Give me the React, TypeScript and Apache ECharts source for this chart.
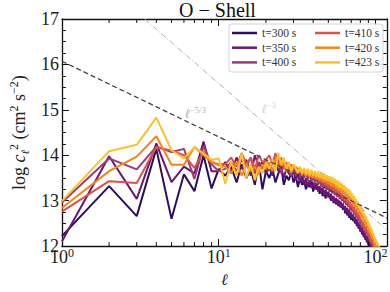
import React, { useEffect, useRef } from 'react';
import * as echarts from 'echarts';

// multipole degree l = 1 .. 110
const ELL: number[] = Array.from({ length: 110 }, (_, i) => i + 1);

const LABELS = ['t=300 s', 't=350 s', 't=400 s', 't=410 s', 't=420 s', 't=423 s'];
const COLORS = ['#2d0f5e', '#6b1773', '#a03a76', '#d9534a', '#f7841b', '#fcc12d'];

const S300 = [
  12.22, 13.32, 12.66, 14.14, 12.60, 13.58, 13.21, 14.00, 13.27, 13.70,
  13.55, 13.75, 13.40, 13.80, 13.50, 13.70, 13.35, 13.85, 13.25, 13.65,
  13.50, 13.70, 13.40, 13.60, 13.75, 13.35, 13.55, 13.45, 13.65, 13.40,
  13.55, 13.30, 13.50, 13.35, 13.45, 13.25, 13.40, 13.30, 13.45, 13.20,
  13.35, 13.25, 13.30, 13.15, 13.28, 13.10, 13.22, 13.05, 13.18, 13.08,
  13.15, 13.00, 13.10, 12.95, 13.05, 12.92, 13.02, 12.88, 12.98, 12.85,
  12.92, 12.80, 12.88, 12.72, 12.82, 12.68, 12.76, 12.62, 12.72, 12.58,
  12.68, 12.55, 12.64, 12.50, 12.58, 12.44, 12.52, 12.38, 12.46, 12.32,
  12.40, 12.26, 12.34, 12.20, 12.28, 12.14, 12.22, 12.08, 12.15, 12.02,
  12.10, 11.98, 12.04, 11.92, 11.98, 11.86, 11.90, 11.78, 11.83, 11.72,
  11.76, 11.64, 11.68, 11.56, 11.60, 11.50, 11.52, 11.44, 11.46, 11.38,
];
const S350 = [
  12.10, 13.98, 13.04, 14.26, 13.41, 13.75, 13.60, 14.30, 13.65, 13.65,
  13.85, 13.60, 13.95, 13.70, 13.90, 13.55, 14.00, 13.75, 13.85, 13.60,
  13.80, 13.55, 13.90, 13.65, 13.75, 13.50, 13.70, 13.60, 13.55, 13.65,
  13.45, 13.60, 13.40, 13.55, 13.35, 13.50, 13.30, 13.45, 13.28, 13.40,
  13.25, 13.38, 13.20, 13.32, 13.18, 13.28, 13.12, 13.24, 13.08, 13.20,
  13.05, 13.15, 13.00, 13.10, 12.96, 13.06, 12.92, 13.02, 12.88, 12.98,
  12.84, 12.94, 12.80, 12.88, 12.75, 12.84, 12.70, 12.80, 12.66, 12.74,
  12.62, 12.70, 12.56, 12.64, 12.50, 12.58, 12.44, 12.52, 12.38, 12.46,
  12.32, 12.40, 12.26, 12.34, 12.20, 12.28, 12.14, 12.22, 12.08, 12.16,
  12.02, 12.10, 11.96, 12.03, 11.90, 11.96, 11.84, 11.90, 11.78, 11.84,
  11.72, 11.78, 11.66, 11.70, 11.60, 11.64, 11.54, 11.58, 11.48, 11.52,
];
const S400 = [
  12.96, 13.93, 13.69, 14.19, 14.07, 14.14, 13.48, 14.20, 13.80, 13.65,
  13.70, 13.85, 13.65, 13.90, 13.75, 13.95, 13.60, 13.85, 13.70, 13.90,
  13.65, 13.85, 13.70, 13.95, 13.60, 13.80, 13.65, 13.75, 13.55, 13.70,
  13.60, 13.72, 13.55, 13.65, 13.50, 13.62, 13.48, 13.58, 13.42, 13.55,
  13.40, 13.50, 13.36, 13.46, 13.32, 13.42, 13.28, 13.38, 13.24, 13.34,
  13.20, 13.30, 13.16, 13.26, 13.12, 13.22, 13.08, 13.18, 13.04, 13.12,
  13.00, 13.08, 12.95, 13.04, 12.90, 12.98, 12.86, 12.94, 12.80, 12.88,
  12.76, 12.84, 12.70, 12.78, 12.64, 12.72, 12.58, 12.66, 12.52, 12.60,
  12.46, 12.54, 12.40, 12.48, 12.34, 12.42, 12.28, 12.35, 12.22, 12.28,
  12.15, 12.22, 12.08, 12.14, 12.02, 12.08, 11.95, 12.00, 11.88, 11.94,
  11.82, 11.87, 11.76, 11.80, 11.70, 11.74, 11.64, 11.68, 11.58, 11.62,
];
const S410 = [
  12.76, 13.43, 13.39, 14.18, 14.10, 14.00, 13.72, 14.08, 13.85, 13.80,
  13.80, 13.95, 13.75, 14.05, 13.80, 13.95, 13.70, 14.00, 13.85, 13.90,
  14.00, 13.80, 14.05, 13.75, 13.95, 13.70, 13.85, 13.65, 13.80, 13.70,
  13.75, 13.62, 13.72, 13.58, 13.68, 13.55, 13.65, 13.52, 13.62, 13.50,
  13.58, 13.46, 13.54, 13.42, 13.50, 13.38, 13.46, 13.34, 13.42, 13.30,
  13.38, 13.26, 13.34, 13.22, 13.30, 13.18, 13.26, 13.14, 13.22, 13.10,
  13.16, 13.04, 13.12, 13.00, 13.08, 12.96, 13.02, 12.90, 12.98, 12.86,
  12.92, 12.80, 12.86, 12.74, 12.80, 12.68, 12.74, 12.62, 12.68, 12.56,
  12.60, 12.48, 12.54, 12.42, 12.48, 12.36, 12.42, 12.30, 12.35, 12.24,
  12.28, 12.16, 12.20, 12.08, 12.13, 12.02, 12.06, 11.95, 11.98, 11.88,
  11.92, 11.82, 11.85, 11.75, 11.78, 11.68, 11.72, 11.62, 11.65, 11.56,
];
const S420 = [
  12.84, 13.65, 13.97, 14.42, 13.79, 13.79, 14.18, 14.00, 13.85, 13.78,
  13.75, 13.60, 13.85, 13.55, 13.80, 13.65, 13.75, 13.58, 13.80, 13.70,
  13.85, 13.65, 13.90, 14.00, 13.75, 13.85, 13.65, 13.80, 13.62, 13.75,
  13.70, 13.60, 13.72, 13.58, 13.68, 13.55, 13.66, 13.52, 13.64, 13.50,
  13.60, 13.48, 13.58, 13.45, 13.55, 13.42, 13.52, 13.40, 13.48, 13.36,
  13.46, 13.32, 13.42, 13.30, 13.38, 13.26, 13.35, 13.22, 13.32, 13.18,
  13.28, 13.15, 13.24, 13.10, 13.20, 13.06, 13.15, 13.02, 13.10, 12.98,
  13.05, 12.92, 13.00, 12.86, 12.94, 12.80, 12.88, 12.74, 12.82, 12.68,
  12.75, 12.62, 12.68, 12.55, 12.62, 12.48, 12.55, 12.42, 12.48, 12.35,
  12.40, 12.28, 12.33, 12.20, 12.26, 12.14, 12.18, 12.06, 12.10, 11.98,
  12.02, 11.92, 11.95, 11.85, 11.88, 11.78, 11.80, 11.70, 11.72, 11.64,
];
const S423 = [
  12.99, 14.09, 14.23, 14.83, 14.11, 13.93, 14.18, 14.04, 13.90, 13.93,
  13.37, 13.85, 13.55, 14.05, 13.50, 13.80, 13.45, 13.75, 13.60, 13.85,
  13.70, 13.90, 13.65, 14.05, 13.80, 13.95, 13.70, 13.85, 13.65, 13.80,
  13.72, 13.62, 13.75, 13.60, 13.72, 13.58, 13.70, 13.56, 13.68, 13.55,
  13.66, 13.52, 13.64, 13.50, 13.62, 13.48, 13.60, 13.45, 13.56, 13.44,
  13.54, 13.40, 13.52, 13.38, 13.48, 13.34, 13.45, 13.30, 13.42, 13.28,
  13.38, 13.24, 13.34, 13.20, 13.30, 13.16, 13.26, 13.12, 13.22, 13.08,
  13.16, 13.02, 13.10, 12.96, 13.04, 12.90, 12.98, 12.84, 12.92, 12.78,
  12.86, 12.72, 12.80, 12.66, 12.72, 12.58, 12.66, 12.52, 12.58, 12.45,
  12.50, 12.38, 12.43, 12.30, 12.36, 12.24, 12.28, 12.16, 12.20, 12.08,
  12.14, 12.06, 12.08, 12.00, 12.02, 11.94, 11.96, 11.88, 11.90, 11.82,
];
const SERIES = [S300, S350, S400, S410, S420, S423];

// reference power laws (endpoints in l, log c^2)
const REF_53 = [[1, 16.07], [118, 12.62]];
const REF_3 = [[3.37, 17], [118, 12.36]];
const ANNOT_53 = [[7.1, 14.93]];
const ANNOT_3 = [[20.8, 15.04]];

const X_MINOR = [2, 3, 4, 5, 6, 7, 8, 9, 20, 30, 40, 50, 60, 70, 80, 90];

const X_MIN = 1;
const X_MAX = 118;
const Y_MIN = 12;
const Y_MAX = 17;

const FONT = "'Liberation Serif', 'DejaVu Serif', serif";

export default function App() {
  const ref = useRef<HTMLDivElement>(null);

  useEffect(() => {
    if (!ref.current) return;
    const chart = echarts.init(ref.current, null, { renderer: 'svg' });

    const lineSeries = SERIES.map((s, i) => ({
      name: LABELS[i],
      type: 'line',
      data: ELL.map((l, j) => [l, s[j]]),
      symbol: 'none',
      showSymbol: false,
      color: COLORS[i],
      lineStyle: { width: 2, color: COLORS[i] },
      z: 2 + i * 0.01,
      clip: true,
      silent: true,
    }));

    const axisLine = { show: true, lineStyle: { color: '#111', width: 1.3 } };
    const tick = { show: true, inside: true, length: 7, lineStyle: { color: '#111', width: 1 } };
    const minor = { show: true, splitNumber: 4, length: 4, lineStyle: { color: '#111', width: 1 } };

    const option: any = {
      animation: false,
      grid: { left: 46, right: 1, top: 19, bottom: 35, containLabel: false },
      xAxis: [
        {
          type: 'log',
          logBase: 10,
          min: X_MIN,
          max: X_MAX,
          position: 'bottom',
          axisLine,
          axisTick: tick,
          splitLine: { show: false },
          name: 'ℓ',
          nameLocation: 'middle',
          nameGap: 24,
          nameTextStyle: { fontFamily: "'DejaVu Serif', serif", fontSize: 16, fontStyle: 'italic', color: '#222' },
          axisLabel: {
            showMaxLabel: false,
            margin: 1,
            formatter: (v: number) => `{b|10}{s|${Math.round(Math.log10(v))}}`,
            rich: {
              b: { fontFamily: FONT, fontSize: 18, lineHeight: 20, color: '#222' },
              s: { fontFamily: FONT, fontSize: 12, lineHeight: 12, verticalAlign: 'top', color: '#222' },
            },
          },
        },
        {
          type: 'log',
          logBase: 10,
          min: X_MIN,
          max: X_MAX,
          position: 'top',
          axisLine,
          axisTick: tick,
          axisLabel: { show: false },
          splitLine: { show: false },
        },
      ],
      yAxis: [
        {
          type: 'value',
          min: Y_MIN,
          max: Y_MAX,
          interval: 1,
          position: 'left',
          axisLine,
          axisTick: tick,
          minorTick: minor,
          splitLine: { show: false },
          axisLabel: { fontFamily: FONT, fontSize: 18, color: '#222', margin: 3 },
          name: '{t|log }{c|c}{sub|ℓ}{sup|2}{t| (cm}{sup|2}{t| s}{sup|−2}{t|)}',
          nameLocation: 'middle',
          nameRotate: 90,
          nameGap: 31,
          nameTextStyle: {
            rich: {
              t: { fontFamily: FONT, fontSize: 18, lineHeight: 22, color: '#222' },
              c: { fontFamily: FONT, fontSize: 18, lineHeight: 22, fontStyle: 'italic', color: '#222' },
              sub: { fontFamily: FONT, fontSize: 11, lineHeight: 11, fontStyle: 'italic', verticalAlign: 'bottom', color: '#222' },
              sup: { fontFamily: FONT, fontSize: 12, lineHeight: 12, verticalAlign: 'top', color: '#222' },
            },
          },
        },
        {
          type: 'value',
          min: Y_MIN,
          max: Y_MAX,
          interval: 1,
          position: 'right',
          axisLine,
          axisTick: tick,
          minorTick: minor,
          splitLine: { show: false },
          axisLabel: { show: false },
        },
      ],
      legend: [
        {
          data: LABELS.slice(0, 3),
          orient: 'vertical',
          left: 232,
          top: 27,
          padding: 0,
          icon: 'rect',
          itemWidth: 25,
          itemHeight: 2.5,
          itemGap: 2.7,
          z: 20,
          textStyle: { fontFamily: FONT, fontSize: 11.5, lineHeight: 12, color: '#333' },
        },
        {
          data: LABELS.slice(3),
          orient: 'vertical',
          left: 315,
          top: 27,
          padding: 0,
          icon: 'rect',
          itemWidth: 25,
          itemHeight: 2.5,
          itemGap: 2.7,
          z: 20,
          textStyle: { fontFamily: FONT, fontSize: 11.5, lineHeight: 12, color: '#333' },
        },
      ],
      graphic: [
        {
          type: 'text',
          x: 217.5,
          y: 0,
          style: { text: 'O − Shell', fontFamily: FONT, fontSize: 20, fill: '#111', textAlign: 'center' },
        },
        {
          type: 'rect',
          z: 10,
          shape: { x: 229, y: 24, width: 154, height: 48, r: 3 },
          style: { fill: 'rgba(255,255,255,0.85)', stroke: '#d4d4d4', lineWidth: 1 },
        },
      ],
      series: [
        ...lineSeries,
        {
          type: 'line',
          data: REF_53,
          symbol: 'none',
          silent: true,
          z: 3,
          lineStyle: { color: '#444', width: 1.3, type: [5, 3] },
        },
        {
          type: 'line',
          data: REF_3,
          symbol: 'none',
          silent: true,
          z: 3,
          lineStyle: { color: '#b0b0b0', width: 1, type: [6, 2, 1, 2] },
        },
        {
          type: 'scatter',
          data: ANNOT_53,
          symbolSize: 0,
          silent: true,
          label: {
            show: true,
            position: 'inside',
            formatter: '{l|ℓ}{s|−5/3}',
            rich: {
              l: { fontFamily: FONT, fontSize: 13, lineHeight: 15, fontStyle: 'italic', color: '#9a9a9a' },
              s: { fontFamily: FONT, fontSize: 8.5, lineHeight: 9, verticalAlign: 'top', color: '#9a9a9a' },
            },
          },
        },
        {
          type: 'scatter',
          data: ANNOT_3,
          symbolSize: 0,
          silent: true,
          label: {
            show: true,
            position: 'inside',
            formatter: '{l|ℓ}{s|−3}',
            rich: {
              l: { fontFamily: FONT, fontSize: 13, lineHeight: 15, fontStyle: 'italic', color: '#c8c8c8' },
              s: { fontFamily: FONT, fontSize: 8.5, lineHeight: 9, verticalAlign: 'top', color: '#c8c8c8' },
            },
          },
        },
        {
          type: 'custom',
          silent: true,
          z: 5,
          data: X_MINOR.map((v) => [v, Y_MIN]),
          encode: { x: 0, y: 1 },
          renderItem: (params: any, api: any) => {
            const v = api.value(0);
            const b = api.coord([v, Y_MIN]);
            const t = api.coord([v, Y_MAX]);
            const st = { stroke: '#111', lineWidth: 1 };
            return {
              type: 'group',
              children: [
                { type: 'line', shape: { x1: b[0], y1: b[1], x2: b[0], y2: b[1] - 4 }, style: st },
                { type: 'line', shape: { x1: t[0], y1: t[1], x2: t[0], y2: t[1] + 4 }, style: st },
              ],
            };
          },
        },
      ],
    };

    chart.setOption(option);
    return () => chart.dispose();
  }, []);

  return <div ref={ref} style={{ width: 390, height: 292, position: 'absolute', left: 0, top: 0 }} />;
}
